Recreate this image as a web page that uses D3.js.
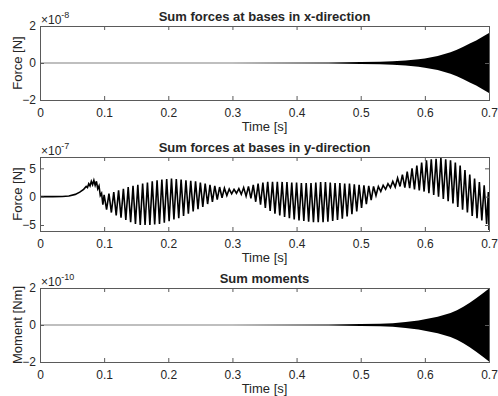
<!DOCTYPE html>
<html>
<head>
<meta charset="utf-8">
<script src="https://cdn.jsdelivr.net/npm/d3@7.9.0/dist/d3.min.js"></script>
<style>
  body { margin: 0; background: #fff; }
  svg text { font-family: "Liberation Sans", Arial, sans-serif; fill: #262626; }
</style>
</head>
<body>
<svg id="fig" width="498" height="396"></svg>
<script>
// ---------- data ----------
const xTicks = [0, 0.1, 0.2, 0.3, 0.4, 0.5, 0.6, 0.7];

// x-direction force: envelope half-width, units 1e-8 N
const fxTime = [0, 0.3, 0.45, 0.5, 0.53, 0.55, 0.57, 0.59, 0.6, 0.62, 0.64, 0.65, 0.66, 0.67, 0.68, 0.69, 0.7];
const fxAmp  = [0.02, 0.02, 0.03, 0.05, 0.07, 0.1, 0.14, 0.2, 0.25, 0.38, 0.58, 0.72, 0.88, 1.05, 1.22, 1.42, 1.62];

// moment: envelope half-width, units 1e-10 Nm
const mTime = [0, 0.3, 0.45, 0.5, 0.53, 0.55, 0.57, 0.59, 0.6, 0.62, 0.64, 0.65, 0.66, 0.67, 0.68, 0.69, 0.7];
const mAmp  = [0.02, 0.02, 0.03, 0.05, 0.07, 0.1, 0.16, 0.24, 0.31, 0.45, 0.65, 0.8, 0.98, 1.2, 1.44, 1.7, 1.97];

// y-direction force, units 1e-7 N : [time, value] at each extreme
const fy = [
  [0, 0], [0.02, 0], [0.035, 0.02], [0.045, 0.12], [0.055, 0.4], [0.062, 0.8], [0.068, 1.3],
  [0.072, 1.8], [0.074, 1.6], [0.076, 2.3], [0.078, 1.9], [0.080, 2.7], [0.082, 2.1], [0.084, 2.9],
  [0.086, 2.0], [0.088, 2.7], [0.090, 1.4], [0.092, 1.9], [0.094, 0.2], [0.096, 0.6], [0.098, -1.4],
  [0.1000, 0.3], [0.1038, -2.3], [0.1075, 0.55], [0.1113, -2.8], [0.1150, 0.8], [0.1188, -3.3],
  [0.1225, 1.1], [0.1263, -3.7], [0.1300, 1.4], [0.1338, -4.1], [0.1375, 1.7], [0.1413, -4.5],
  [0.1450, 1.9], [0.1488, -4.8], [0.1525, 2.1], [0.1563, -5.0], [0.1600, 2.3], [0.1638, -5.0],
  [0.1675, 2.5], [0.1713, -5.0], [0.1750, 2.7], [0.1788, -4.9], [0.1825, 2.9], [0.1863, -4.8],
  [0.1900, 3.0], [0.1938, -4.6], [0.1975, 3.1], [0.2013, -4.35], [0.2050, 3.2], [0.2088, -4.0],
  [0.2125, 3.1], [0.2163, -3.8], [0.2200, 3.0], [0.2238, -3.4], [0.2275, 2.9], [0.2313, -3.0],
  [0.2350, 2.8], [0.2388, -2.6], [0.2425, 2.7], [0.2463, -2.2], [0.2500, 2.5], [0.2538, -1.8],
  [0.2575, 2.3], [0.2613, -1.3], [0.2650, 2.1], [0.2688, -0.9], [0.2725, 1.9], [0.2763, -0.5],
  [0.2800, 1.7], [0.2838, -0.2], [0.2875, 1.5], [0.2913, 0.2], [0.2950, 1.35], [0.2988, 0.5],
  [0.3025, 1.3], [0.3063, 0.6], [0.3100, 1.4], [0.3138, 0.4], [0.3175, 1.6], [0.3213, 0.1],
  [0.3250, 1.8], [0.3288, -0.3], [0.3325, 2.1], [0.3363, -0.9], [0.3400, 2.3], [0.3438, -1.4],
  [0.3475, 2.5], [0.3513, -2.0], [0.3550, 2.6], [0.3588, -2.5], [0.3625, 2.6], [0.3663, -3.0],
  [0.3700, 2.6], [0.3738, -3.3], [0.3775, 2.6], [0.3813, -3.6], [0.3850, 2.6], [0.3888, -3.8],
  [0.3925, 2.5], [0.3963, -4.0], [0.4000, 2.5], [0.4038, -4.2], [0.4075, 2.4], [0.4113, -4.3],
  [0.4150, 2.4], [0.4188, -4.4], [0.4225, 2.4], [0.4263, -4.5], [0.4300, 2.5], [0.4338, -4.5],
  [0.4375, 2.6], [0.4413, -4.5], [0.4450, 2.6], [0.4488, -4.4], [0.4525, 2.5], [0.4563, -4.3],
  [0.4600, 2.4], [0.4638, -4.1], [0.4675, 2.4], [0.4713, -3.9], [0.4750, 2.3], [0.4788, -3.5],
  [0.4825, 2.3], [0.4863, -3.1], [0.4900, 2.2], [0.4938, -2.6], [0.4975, 2.1], [0.5013, -2.0],
  [0.5050, 2.0], [0.5088, -1.3], [0.5125, 1.9], [0.5163, -0.6], [0.5200, 1.8], [0.5238, 0.2],
  [0.5275, 1.8], [0.5313, 0.9], [0.5350, 2.0], [0.5388, 1.3], [0.5425, 2.3], [0.5463, 1.6],
  [0.5500, 2.7], [0.5538, 1.7], [0.5575, 3.3], [0.5613, 1.8], [0.5650, 3.9], [0.5688, 1.6],
  [0.5725, 4.4], [0.5763, 1.5], [0.5800, 5.0], [0.5838, 1.3], [0.5875, 5.5], [0.5913, 1.1],
  [0.5950, 6.0], [0.5988, 0.9], [0.6025, 6.4], [0.6063, 0.6], [0.6100, 6.6], [0.6138, 0.3],
  [0.6175, 6.7], [0.6213, 0.0], [0.6250, 6.8], [0.6288, -0.4], [0.6325, 6.6], [0.6363, -0.8],
  [0.6400, 6.4], [0.6438, -1.2], [0.6475, 6.0], [0.6513, -1.8], [0.6550, 5.5], [0.6588, -2.3],
  [0.6625, 4.7], [0.6663, -2.8], [0.6700, 3.9], [0.6738, -3.4], [0.6775, 3.2], [0.6813, -3.8],
  [0.6850, 2.6], [0.6888, -4.2], [0.6925, 2.0], [0.6963, -4.8], [0.6990, 0.8], [0.7000, -5.9]
];

// ---------- layout ----------
const svg = d3.select('#fig');
const x = d3.scaleLinear().domain([0, 0.7]).range([40, 489]);

const panels = [
  { top: 26, bottom: 100, domain: [-2, 2], ticks: [-2, 0, 2], exp: '-8',
    title: 'Sum forces at bases in x-direction', ylabel: 'Force [N]' },
  { top: 157, bottom: 231, domain: [-6.06, 7.0], ticks: [-5, 0, 5], exp: '-7',
    title: 'Sum forces at bases in y-direction', ylabel: 'Force [N]' },
  { top: 288, bottom: 362, domain: [-2, 2], ticks: [-2, 0, 2], exp: '-10',
    title: 'Sum moments', ylabel: 'Moment [Nm]' },
];

const axisColor = '#5a5a5a';

function drawPanel(p, drawData) {
  const y = d3.scaleLinear().domain(p.domain).range([p.bottom, p.top]);
  const g = svg.append('g');

  const clipId = 'clip' + p.top;
  g.append('clipPath').attr('id', clipId).append('rect')
    .attr('x', x.range()[0]).attr('y', p.top)
    .attr('width', x.range()[1] - x.range()[0]).attr('height', p.bottom - p.top);

  drawData(g.append('g').attr('clip-path', `url(#${clipId})`), y);

  // axes: ticks inside on all four sides
  const styleAxis = (sel) => {
    sel.select('.domain').remove();
    sel.selectAll('.tick line').attr('stroke', axisColor);
    sel.selectAll('.tick text').attr('fill', '#262626').style('font-size', '12px');
  };
  g.append('g').attr('transform', `translate(0,${p.bottom})`)
    .call(d3.axisBottom(x).tickValues(xTicks).tickFormat(d3.format('')).tickSize(-4).tickPadding(8))
    .call(styleAxis);
  g.append('g').attr('transform', `translate(0,${p.top})`)
    .call(d3.axisTop(x).tickValues(xTicks).tickFormat('').tickSize(-4))
    .call(styleAxis);
  g.append('g').attr('transform', `translate(${x.range()[0]},0)`)
    .call(d3.axisLeft(y).tickValues(p.ticks).tickFormat(d3.format('')).tickSize(-4).tickPadding(4))
    .call(styleAxis);
  g.append('g').attr('transform', `translate(${x.range()[1]},0)`)
    .call(d3.axisRight(y).tickValues(p.ticks).tickFormat('').tickSize(-4))
    .call(styleAxis);

  g.append('rect')
    .attr('x', x.range()[0] + 0.5).attr('y', p.top + 0.5)
    .attr('width', x.range()[1] - x.range()[0]).attr('height', p.bottom - p.top)
    .attr('fill', 'none').attr('stroke', axisColor).attr('stroke-width', 1);

  // exponent label
  const ex = g.append('text').attr('x', 41).attr('y', p.top - 2).style('font-size', '12px');
  ex.append('tspan').text('\u00d710');
  ex.append('tspan').attr('dy', -6).style('font-size', '9px').text(p.exp);

  // title
  g.append('text')
    .attr('x', (x.range()[0] + x.range()[1]) / 2).attr('y', p.top - 5)
    .attr('text-anchor', 'middle').style('font-size', '13px').style('font-weight', 'bold')
    .attr('fill', '#000').text(p.title);

  // x label
  g.append('text')
    .attr('x', (x.range()[0] + x.range()[1]) / 2).attr('y', p.bottom + 31)
    .attr('text-anchor', 'middle').style('font-size', '13px').text('Time [s]');

  // y label
  g.append('text')
    .attr('transform', `translate(22,${(p.top + p.bottom) / 2}) rotate(-90)`)
    .attr('text-anchor', 'middle').style('font-size', '13px').text(p.ylabel);
}

function envelope(times, amps) {
  return (g, y) => {
    const data = times.map((t, i) => ({ t, a: amps[i] }));
    g.append('path')
      .datum(data)
      .attr('fill', '#000')
      .attr('d', d3.area().x(d => x(d.t)).y0(d => y(-d.a)).y1(d => y(d.a)));
  };
}

drawPanel(panels[0], envelope(fxTime, fxAmp));

drawPanel(panels[1], (g, y) => {
  g.append('path')
    .datum(fy)
    .attr('fill', 'none')
    .attr('stroke', '#000')
    .attr('stroke-width', 1.6)
    .attr('stroke-linejoin', 'miter')
    .attr('d', d3.line().x(d => x(d[0])).y(d => y(d[1])));
});

drawPanel(panels[2], envelope(mTime, mAmp));
</script>
</body>
</html>
